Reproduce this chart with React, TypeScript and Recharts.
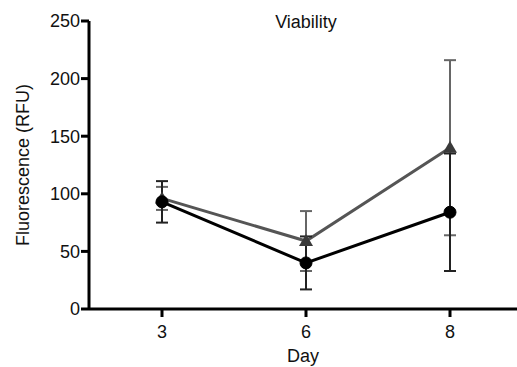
import { ErrorBar, Label, Line, LineChart, XAxis, YAxis } from "recharts";

const days = ["3", "6", "8"];
const circleMean = [93, 40, 84];
const circleErr = [18, 23, 51];
const triangleMean = [96, 59, 140];
const triangleErr = [10, 26, 76];
const yTicks = [0, 50, 100, 150, 200, 250];

const data = days.map((day, i) => ({
    day,
    circle: circleMean[i],
    circleErr: circleErr[i],
    triangle: triangleMean[i],
    triangleErr: triangleErr[i],
}));

const FONT = "'Liberation Sans', Arial, Helvetica, sans-serif";

// filled up-triangle marker for the second series
function TriangleDot(props: any) {
    const { cx, cy } = props;
    if (cx == null || cy == null) return null;
    return <path d={`M${cx - 7},${cy + 5} L${cx + 7},${cy + 5} L${cx},${cy - 7} Z`} fill="#3a3a3a" />;
}

export default function App() {
    return (
        <div style={{ position: "absolute", left: 0, top: 0, background: "#fff" }}>
            <LineChart
                width={517}
                height={367}
                data={data}
                margin={{ top: 21, right: 0, bottom: 0, left: 0 }}
                style={{ fontFamily: FONT }}
            >
                <text x={306} y={28} textAnchor="middle" fontSize={18} fill="#111" fontFamily={FONT}>
                    Viability
                </text>
                <XAxis
                    dataKey="day"
                    height={58}
                    padding={{ left: 73, right: 67 }}
                    stroke="#000"
                    strokeWidth={3}
                    tickSize={8}
                    tickMargin={8}
                    tick={{ fontSize: 18, fill: "#111" }}
                >
                    <Label value="Day" position="insideBottom" offset={5} fontSize={18} fill="#111" />
                </XAxis>
                <YAxis
                    width={89}
                    domain={[0, 250]}
                    ticks={yTicks}
                    stroke="#000"
                    strokeWidth={3}
                    tickSize={8}
                    tickMargin={1}
                    tick={{ fontSize: 18, fill: "#111" }}
                >
                    <Label value="Fluorescence (RFU)" angle={-90} position="center" dx={-22} fontSize={18} fill="#111" />
                </YAxis>
                <Line
                    dataKey="triangle"
                    stroke="#555"
                    strokeWidth={3}
                    dot={<TriangleDot />}
                    activeDot={false}
                    isAnimationActive={false}
                >
                    <ErrorBar dataKey="triangleErr" width={6} stroke="#666" strokeWidth={2} direction="y" />
                </Line>
                <Line
                    dataKey="circle"
                    stroke="#000"
                    strokeWidth={3}
                    dot={{ r: 6, fill: "#000", stroke: "#000", strokeWidth: 1 }}
                    activeDot={false}
                    isAnimationActive={false}
                >
                    <ErrorBar dataKey="circleErr" width={6} stroke="#222" strokeWidth={2} direction="y" />
                </Line>
            </LineChart>
        </div>
    );
}
